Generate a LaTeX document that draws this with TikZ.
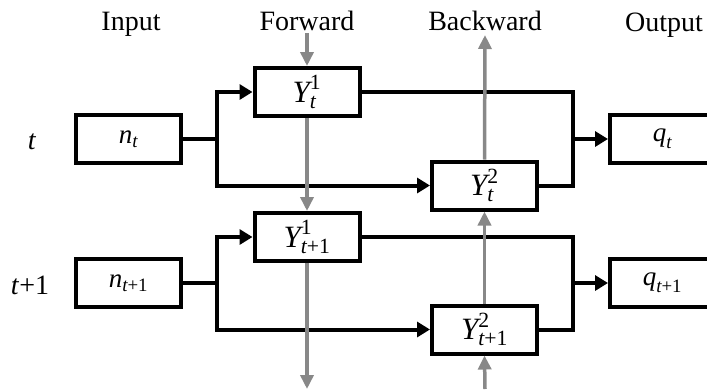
\documentclass[tikz,border=0pt]{standalone}
\usepackage{amsmath}
\usepackage{fontspec}
\setmainfont{Liberation Serif}
\usetikzlibrary{arrows.meta}
\definecolor{arrgray}{RGB}{136,136,136}
\begin{document}
\begin{tikzpicture}[x=1pt,y=1pt,
  box/.style={draw, line width=4pt, minimum width=105pt, minimum height=48pt, inner sep=0pt, font=\fontsize{27}{30}\selectfont},
  ybox/.style={box, font=\fontsize{31}{34}\selectfont},
  lbl/.style={anchor=base, font=\fontsize{28}{32}\selectfont},
  conn/.style={line width=4pt, -{Triangle[length=13pt,width=15pt]}},
  wire/.style={line width=4pt, line join=miter},
  garr/.style={arrgray, line width=3.5pt, -{Triangle[length=14pt,width=13pt]}}]
\clip (0,0) rectangle (707,-389);
% headers
\node[lbl] (hin) at (131,-30.5) {Input};
\node[lbl] (hfw) at (307,-30.5) {Forward};
\node[lbl] (hbw) at (485,-30.5) {Backward};
\node[lbl] (hout) at (664,-31) {Output};
% row labels
\node[lbl] (rt) at (32,-149) {\textit{t}};
\node[lbl] (rt1) at (30,-294) {\textit{t}+1};
% boxes
\node[box] (nt) at (128.5,-139) {$\textit{n}_{\textit{t}}$};
\node[ybox] (Y1t) at (307,-92) {$\textit{Y}^{\text{1}}_{\textit{t}}$};
\node[ybox] (Y2t) at (484.5,-185.5) {$\textit{Y}^{\text{2}}_{\textit{t}}$};
\node[box] (qt) at (662.5,-139) {$\textit{q}_{\textit{t}}$};
\node[box] (nt1) at (128.5,-283) {$\textit{n}_{\textit{t}\text{+1}}$};
\node[ybox] (Y1t1) at (307,-237) {$\textit{Y}^{\text{1}}_{\textit{t}\text{+1}}$};
\node[ybox] (Y2t1) at (484.5,-329.5) {$\textit{Y}^{\text{2}}_{\textit{t}\text{+1}}$};
\node[box] (qt1) at (662.5,-283) {$\textit{q}_{\textit{t}\text{+1}}$};
% junction coordinates
\coordinate (j1) at (217,-139);
\coordinate (j2) at (217,-283);
\coordinate (o1) at (573,-139);
\coordinate (o2) at (573,-283);
\coordinate (f0) at (307,-33);
\coordinate (f1) at (307,-389);
\coordinate (b0) at (485,-35);
\coordinate (b1) at (485,-389);
% black wiring, row t
\draw[wire] (nt.east) -- (j1);
\draw[conn] (j1) |- (Y1t.west);
\draw[conn] (j1) |- (Y2t.west);
\draw[wire] (Y1t.east) -| (o1) |- (Y2t.east);
\draw[conn] (o1) -- (qt.west);
% black wiring, row t+1
\draw[wire] (nt1.east) -- (j2);
\draw[conn] (j2) |- (Y1t1.west);
\draw[conn] (j2) |- (Y2t1.west);
\draw[wire] (Y1t1.east) -| (o2) |- (Y2t1.east);
\draw[conn] (o2) -- (qt1.west);
% gray forward / backward arrows
\draw[garr] (f0) -- (Y1t.north);
\draw[garr] (Y1t.south) -- (Y1t1.north);
\draw[garr] (Y1t1.south) -- (f1);
\draw[garr] (Y2t.north) -- (b0);
\draw[garr] (Y2t1.north) -- (Y2t.south);
\draw[garr] (b1) -- (Y2t1.south);
\end{tikzpicture}
\end{document}
